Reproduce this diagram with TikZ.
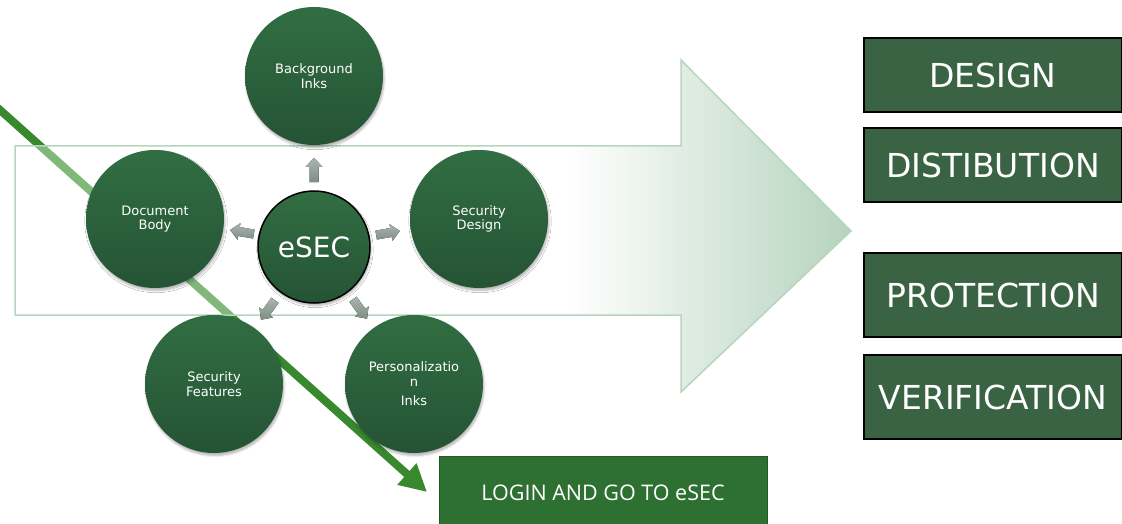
\documentclass[tikz,border=0pt]{standalone}
\usepackage{fontspec}
\setmainfont{DejaVu Sans}
\newfontfamily\loginfont{Open Sans}
\usetikzlibrary{arrows.meta,shadows.blur}
\definecolor{circtop}{RGB}{49,110,66}
\definecolor{circbot}{RGB}{37,83,53}
\definecolor{boxgreen}{RGB}{58,99,68}
\definecolor{logingreen}{RGB}{46,112,50}
\definecolor{loginborder}{RGB}{32,88,38}
\definecolor{diaggreen}{RGB}{56,136,46}
\definecolor{diaglight}{RGB}{128,184,122}
\definecolor{arrowline}{RGB}{182,213,190}
\definecolor{arrowtip}{RGB}{181,211,189}
\definecolor{greytop}{RGB}{170,180,174}
\definecolor{greybot}{RGB}{126,143,134}
\pgfdeclarehorizontalshading{bigfade}{100bp}{color(0bp)=(white); color(25bp)=(white); color(58bp)=(white); color(75bp)=(arrowtip); color(100bp)=(arrowtip)}
\begin{document}
\begin{tikzpicture}[x=1pt,y=-1pt,
  sat/.style={circle, minimum size=138pt, inner sep=0pt, top color=circtop, bottom color=circbot,
    text=white, font=\fontsize{13}{14.5}\selectfont, align=center,
    blur shadow={shadow blur steps=6, shadow xshift=1pt, shadow yshift=-2.5pt, shadow opacity=30}},
  hub/.style={sat, minimum size=112pt, draw=black, line width=1.5pt, font=\fontsize{28}{30}\selectfont},
  stage/.style={draw=black, line width=1.2pt, fill=boxgreen, text=white,
    font=\fontsize{33}{36}\selectfont, inner sep=0pt, minimum width=258pt},
  loginbox/.style={draw=loginborder, line width=0.8pt, fill=logingreen, text=white,
    font=\loginfont\fontsize{21.5}{24}\selectfont, inner sep=0pt, minimum width=328pt, minimum height=74pt},
  diagline/.style={draw=diaggreen, line width=8pt},
  bigarrowline/.style={draw=arrowline, line width=1.5pt},
  garrow/.pic={\fill[top color=greytop, bottom color=greybot]
     (-12,-4.5) -- (3,-4.5) -- (3,-8.5) -- (12,0) -- (3,8.5) -- (3,4.5) -- (-12,4.5) -- cycle;}
]
\useasboundingbox (0,0) rectangle (1122,524);

% diagonal arrow (dark)
\coordinate (ds) at (-6,104.6);
\coordinate (dt) at (427,492);
\draw[diagline, -{Triangle[length=27pt,width=27pt]}] (ds) -- (dt);

% big faded arrow
\path[shading=bigfade] (15,146) -- (681,146) -- (681,60) -- (851,231) -- (681,392) -- (681,315) -- (15,315) -- cycle;
\begin{scope}
  \clip (15,146) -- (681,146) -- (681,60) -- (851,231) -- (681,392) -- (681,315) -- (15,315) -- cycle;
  \draw[diagline, draw=diaglight] (ds) -- (dt);
\end{scope}
\draw[bigarrowline] (15,146) -- (681,146) -- (681,60) -- (851,231) -- (681,392) -- (681,315) -- (15,315) -- cycle;

% small grey arrows
\pic[rotate=90] at (314,170) {garrow};
\pic[rotate=170] at (242,232) {garrow};
\pic[rotate=10] at (388,233) {garrow};
\pic[rotate=234] at (268,310) {garrow};
\pic[rotate=306] at (360,309) {garrow};

% circles
\node[sat] (bg) at (314,76) {Background\\Inks};
\node[sat] (doc) at (155,219) {Document\\Body};
\node[sat] (sdes) at (479,219) {Security\\Design};
\node[sat] (sfeat) at (214,384) {Security\\Features};
\node[sat] (pers) at (414,384) {Personalizatio\\n\\[5pt]Inks};
\node[hub] (esec) at (314,247) {eSEC};

% stage boxes
\node[stage, minimum height=74pt] (design) at (993,75) {DESIGN};
\node[stage, minimum height=74pt] (dist) at (993,165) {DISTIBUTION};
\node[stage, minimum height=84pt] (prot) at (993,295) {PROTECTION};
\node[stage, minimum height=84pt] (verif) at (993,397) {VERIFICATION};

% login box
\node[loginbox] (login) at (603,493) {LOGIN AND GO TO eSEC};
\end{tikzpicture}
\end{document}
